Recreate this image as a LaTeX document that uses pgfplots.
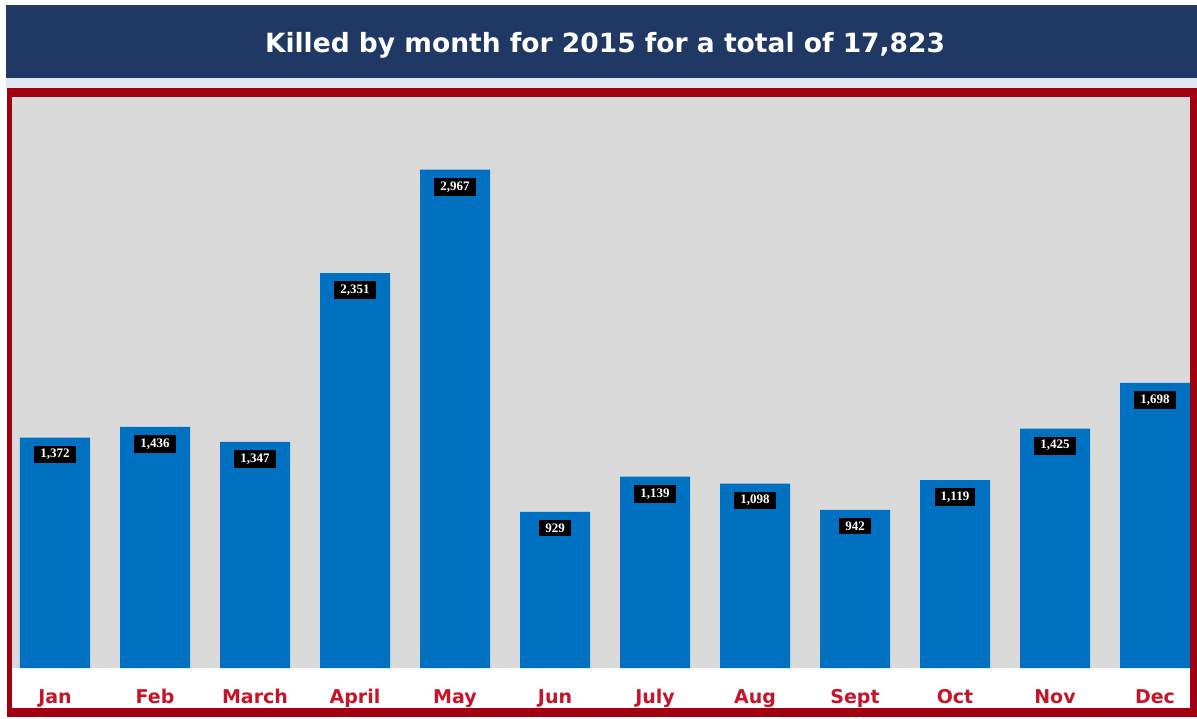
\documentclass[border=0pt]{standalone}
\usepackage{fontspec}
\setmainfont{Liberation Serif}
\newfontfamily\verdf{DejaVu Sans}
\usepackage{pgfplots}
\pgfplotsset{compat=1.18}
\definecolor{navy}{RGB}{31,56,100}
\definecolor{framered}{RGB}{160,0,16}
\definecolor{labred}{RGB}{200,20,40}
\definecolor{barblue}{RGB}{0,112,192}
\definecolor{bggray}{RGB}{218,218,218}
\definecolor{strip}{RGB}{225,232,242}
\pgfplotstableread{
x val
0 1372
1 1436
2 1347
3 2351
4 2967
5 929
6 1139
7 1098
8 942
9 1119
10 1425
11 1698
}\killed
\begin{document}
\begin{tikzpicture}[x=1pt,y=1pt]
\fill[white] (0,0) rectangle (1197,718);
\fill[navy] (6,640) rectangle (1197,713);
\fill[strip] (6,630) rectangle (1197,640);
\fill[framered] (7,1) rectangle (1197,630);
\fill[white] (12,10) rectangle (1190,621);
\node[text=white, font=\verdf\bfseries\fontsize{26.5}{30}\selectfont] at (605,673) {Killed by month for 2015 for a total of 17,823};
\begin{axis}[
  at={(12pt,50pt)}, anchor=south west,
  scale only axis, width=1178pt, height=571pt,
  xmin=-0.43, xmax=11.35, ymin=0, ymax=3400,
  axis background/.style={fill=bggray},
  axis line style={draw=none},
  major tick style={draw=none},
  ytick=\empty,
  xtick={0,...,11},
  xticklabels={Jan,Feb,March,April,May,Jun,July,Aug,Sept,Oct,Nov,Dec},
  xticklabel style={anchor=base, yshift=-31pt, text=labred, font=\verdf\bfseries\fontsize{19}{22}\selectfont},
  /pgf/number format/assume math mode=true,
  ybar, bar width=0.7,
  nodes near coords={\pgfmathprintnumber[fixed,precision=0,1000 sep={,}]{\pgfplotspointmeta}},
  every node near coord/.append style={anchor=north, yshift=-8pt, fill=black, text=white, inner xsep=6pt, inner ysep=3.5pt, font=\bfseries\fontsize{13}{13}\selectfont},
]
\addplot[fill=barblue, draw=none] table[x=x, y=val] {\killed};
\end{axis}
\end{tikzpicture}
\end{document}
